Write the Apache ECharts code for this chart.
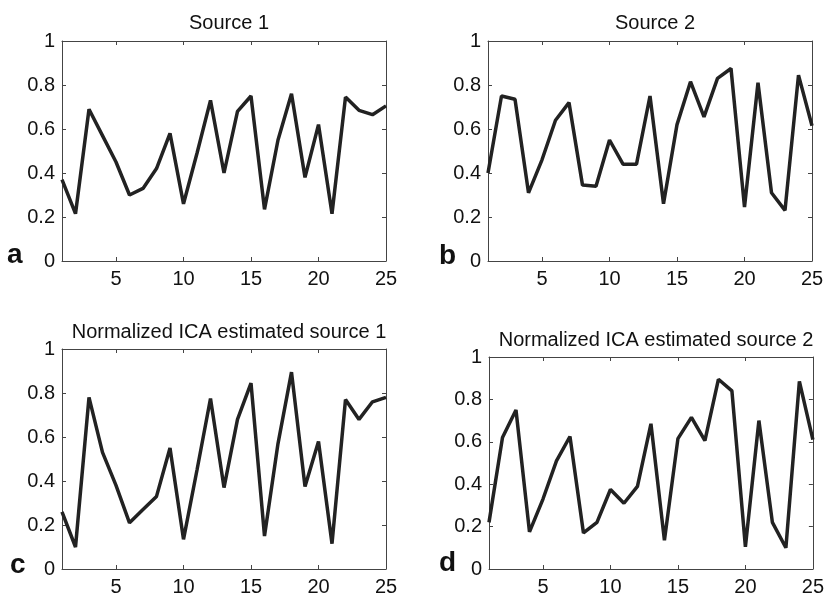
<!DOCTYPE html>
<html>
<head>
<meta charset="utf-8">
<script src="https://cdn.jsdelivr.net/npm/echarts@6/dist/echarts.min.js"></script>
<style>
  html, body { margin: 0; padding: 0; background: #fff; }
  #chart { width: 827px; height: 597px; }
</style>
</head>
<body>
<div id="chart"></div>
<script>
// sample index 1..25
const samples = [1,2,3,4,5,6,7,8,9,10,11,12,13,14,15,16,17,18,19,20,21,22,23,24,25];
const xTicks = [5, 10, 15, 20, 25];

const source1 = [0.37,0.215,0.69,0.57,0.45,0.30,0.33,0.42,0.58,0.26,0.49,0.73,0.40,0.68,0.75,0.235,0.55,0.76,0.38,0.62,0.215,0.745,0.685,0.665,0.705];
const source2 = [0.40,0.75,0.735,0.31,0.46,0.64,0.72,0.345,0.34,0.55,0.44,0.44,0.75,0.26,0.62,0.815,0.655,0.83,0.875,0.245,0.81,0.31,0.23,0.845,0.615];
const icaSource1 = [0.26,0.10,0.78,0.53,0.38,0.21,0.27,0.33,0.55,0.135,0.45,0.775,0.37,0.68,0.845,0.15,0.57,0.895,0.375,0.58,0.115,0.77,0.68,0.76,0.78];
const icaSource2 = [0.22,0.62,0.75,0.175,0.33,0.51,0.625,0.17,0.22,0.375,0.31,0.39,0.685,0.135,0.615,0.715,0.605,0.895,0.84,0.105,0.70,0.22,0.10,0.885,0.61];

const panelTitles = ['Source 1', 'Source 2', 'Normalized ICA estimated source 1', 'Normalized ICA estimated source 2'];
const panelLetters = ['a', 'b', 'c', 'd'];
const panelSeries = [source1, source2, icaSource1, icaSource2];

// layout of each panel (pixels)
const grids = [
  { left: 62, top: 41, width: 324, height: 220 },
  { left: 488, top: 41, width: 324, height: 220 },
  { left: 62, top: 349, width: 324, height: 220 },
  { left: 489, top: 357, width: 324, height: 212 }
];
const titleTops = [8, 8, 317, 325];
const letterPos = [[7, 256], [439, 257], [10, 566], [439, 564]];

const font = '"Liberation Sans", Arial, sans-serif';
const lineCol = '#444';

const xAxes = [], yAxes = [], series = [], titles = [], graphics = [];

grids.forEach((g, i) => {
  // bottom axis with labels
  xAxes.push({
    gridIndex: i, type: 'value', min: 1, max: 25, position: 'bottom',
    axisLine: { show: true, lineStyle: { color: lineCol, width: 1 } },
    axisTick: { show: true, inside: true, length: 4, customValues: xTicks, lineStyle: { color: lineCol } },
    axisLabel: { customValues: xTicks, color: '#111', fontSize: 20, fontFamily: font, margin: 8 },
    splitLine: { show: false }
  });
  // top axis, ticks only
  xAxes.push({
    gridIndex: i, type: 'value', min: 1, max: 25, position: 'top',
    axisLine: { show: true, onZero: false, lineStyle: { color: lineCol, width: 1 } },
    axisTick: { show: true, inside: true, length: 4, customValues: xTicks, lineStyle: { color: lineCol } },
    axisLabel: { show: false },
    splitLine: { show: false }
  });
  yAxes.push({
    gridIndex: i, type: 'value', min: 0, max: 1, interval: 0.2, position: 'left',
    axisLine: { show: true, lineStyle: { color: lineCol, width: 1 } },
    axisTick: { show: true, inside: true, length: 4, lineStyle: { color: lineCol } },
    axisLabel: { color: '#111', fontSize: 20, fontFamily: font, margin: 7 },
    splitLine: { show: false }
  });
  yAxes.push({
    gridIndex: i, type: 'value', min: 0, max: 1, interval: 0.2, position: 'right',
    axisLine: { show: true, onZero: false, lineStyle: { color: lineCol, width: 1 } },
    axisTick: { show: true, inside: true, length: 4, lineStyle: { color: lineCol } },
    axisLabel: { show: false },
    splitLine: { show: false }
  });

  series.push({
    type: 'line',
    xAxisIndex: i * 2,
    yAxisIndex: i * 2,
    data: samples.map((s, k) => [s, panelSeries[i][k]]),
    showSymbol: false,
    symbol: 'none',
    lineStyle: { color: '#222', width: 3.5 },
    clip: true,
    animation: false
  });

  titles.push({
    text: panelTitles[i],
    left: g.left + g.width / 2,
    top: titleTops[i],
    textAlign: 'center',
    textStyle: { fontSize: 20, fontWeight: 'normal', color: '#111', fontFamily: font }
  });

  graphics.push({
    type: 'text',
    left: letterPos[i][0],
    top: letterPos[i][1] - 15,
    style: { text: panelLetters[i], fontSize: 28, fontWeight: 'bold', fill: '#111', fontFamily: font }
  });
});

const chart = echarts.init(document.getElementById('chart'), null, { renderer: 'canvas' });
chart.setOption({
  backgroundColor: '#fff',
  animation: false,
  title: titles,
  grid: grids.map(g => Object.assign({ containLabel: false }, g)),
  xAxis: xAxes,
  yAxis: yAxes,
  series: series,
  graphic: graphics
});
</script>
</body>
</html>
